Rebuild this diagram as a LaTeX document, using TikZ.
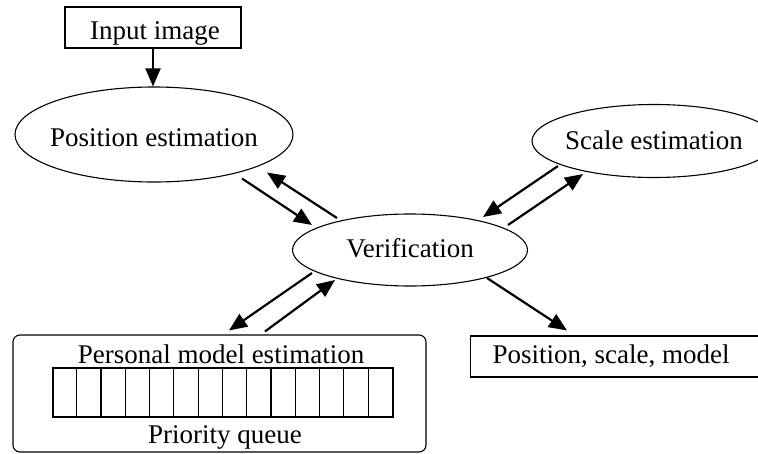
\documentclass[tikz,border=0pt]{standalone}
\usepackage{fontspec}
\setmainfont{Liberation Serif}
\usetikzlibrary{shapes.geometric,arrows.meta,calc}
\begin{document}
\begin{tikzpicture}[x=1pt,y=-1pt,
  ell/.style={draw, ellipse, line width=1.1pt, inner sep=0pt},
  box/.style={draw, line width=1.1pt, inner sep=0pt},
  lbl/.style={anchor=base, inner sep=0pt, font=\fontsize{27}{32}\selectfont},
  arr/.style={line width=2.2pt, -{Triangle[length=18pt,width=15pt]}},
]
\useasboundingbox (0,0) rectangle (758,453);
\clip (0,0) rectangle (758,453);

% nodes
\node[box, minimum width=176pt, minimum height=41pt] (inp) at (153,27.5) {};
\node[lbl] (inptxt) at (155,39) {Input image};

\node[ell, minimum width=278pt, minimum height=95pt] (pos) at (154,134.5) {};
\node[lbl] (postxt) at (154,146) {Position estimation};

\node[ell, minimum width=235pt, minimum height=72pt] (ver) at (410,250) {};
\node[lbl] (vertxt) at (410,257) {Verification};

\node[ell, minimum width=244pt, minimum height=73pt] (scl) at (654,141) {};
\node[lbl] (scltxt) at (654,149) {Scale estimation};

\node[box, rounded corners=7pt, minimum width=413pt, minimum height=117pt] (pers) at (219.5,393.5) {};
\node[lbl] (perstxt) at (221,363) {Personal model estimation};
\node[box, minimum width=340pt, minimum height=49pt] (queue) at (223,392.5) {};
\foreach \i in {1,...,13}
  \draw[line width=1.1pt] ($(queue.north west)+(\i*24.2857,0)$) -- ($(queue.south west)+(\i*24.2857,0)$);
\node[lbl] (qtxt) at (225,443) {Priority queue};

\node[box, anchor=west, minimum width=300pt, minimum height=41pt] (out) at (470,356.5) {};
\node[lbl] (outtxt) at (611,363) {Position, scale, model};

% connectors
\draw[arr] (inp.south) -- (inp.south |- pos.north);
\draw[arr] ($(pos)+(88,44)$) -- ($(ver)+(-98,-25)$);
\draw[arr] ($(ver)+(-73,-32)$) -- ($(pos)+(113,38)$);
\draw[arr] ($(scl)+(-96,25)$) -- ($(ver)+(73,-33)$);
\draw[arr] ($(ver)+(98,-25)$) -- ($(scl)+(-71,33)$);
\draw[arr] ($(ver)+(-98,23)$) -- ($(pers.north)+(9.5,-4)$);
\draw[arr] ($(pers.north)+(45.5,-3)$) -- ($(ver)+(-75,30)$);
\draw[arr] ($(ver)+(77,28)$) -- ($(out.north west)+(97,-5)$);
\end{tikzpicture}
\end{document}
